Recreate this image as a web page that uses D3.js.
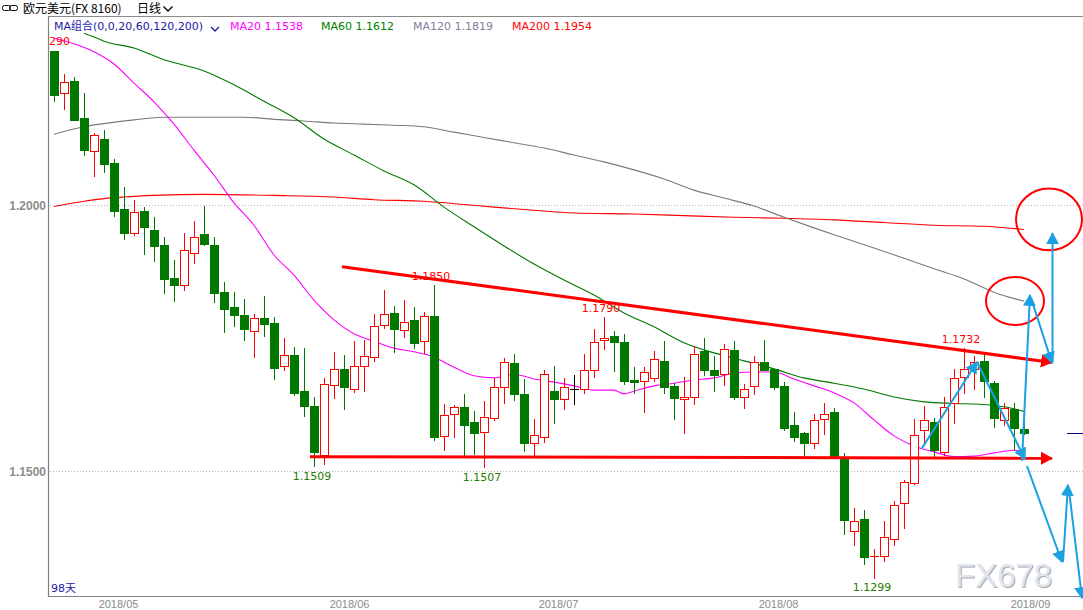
<!DOCTYPE html>
<html><head><meta charset="utf-8">
<script src="https://cdn.jsdelivr.net/npm/d3@7/dist/d3.min.js"></script>
<style>
html,body{margin:0;padding:0;background:#fff;overflow:hidden;}
svg{display:block;}
</style></head><body>
<svg id="chart" width="1083" height="610"></svg>
<script>
// ---------------- DATA ----------------
const open = [1.2289,1.2210,1.2233,1.2164,1.2102,1.2124,1.2079,1.1992,1.1948,1.1989,
1.1953,1.1925,1.1863,1.1850,1.1910,1.1946,1.1925,1.1836,1.1808,1.1793,
1.1763,1.1788,1.1778,1.1697,1.1718,1.1650,1.1622,1.1531,1.1662,1.1692,
1.1655,1.1697,1.1714,1.1774,1.1797,1.1765,1.1783,1.1744,1.1791,1.1566,
1.1607,1.1620,1.1592,1.1573,1.1600,1.1657,1.1703,1.1645,1.1552,1.1564,
1.1650,1.1636,1.1655,1.1654,1.1689,1.1746,1.1754,1.1742,1.1671,1.1670,
1.1674,1.1707,1.1660,1.1635,1.1640,1.1726,1.1690,1.1682,1.1727,1.1640,
1.1659,1.1705,1.1691,1.1660,1.1586,1.1571,1.1552,1.1597,1.1611,1.1524,
1.1387,1.1410,1.1340,1.1341,1.1373,1.1439,1.1478,1.1578,1.1592,1.1536,
1.1627,1.1676,1.1692,1.1707,1.1665,1.1595,1.1617,1.1579];
const high = [1.2290,1.2246,1.2241,1.2211,1.2135,1.2141,1.2086,1.2033,1.2009,1.1996,
1.1978,1.1940,1.1897,1.1947,1.1969,1.1999,1.1940,1.1855,1.1836,1.1823,
1.1795,1.1829,1.1789,1.1750,1.1733,1.1732,1.1640,1.1675,1.1724,1.1718,
1.1744,1.1746,1.1796,1.1840,1.1811,1.1821,1.1808,1.1799,1.1850,1.1626,
1.1624,1.1645,1.1613,1.1632,1.1674,1.1712,1.1720,1.1673,1.1597,1.1690,
1.1697,1.1674,1.1680,1.1720,1.1767,1.1790,1.1764,1.1758,1.1695,1.1695,
1.1726,1.1745,1.1665,1.1677,1.1735,1.1750,1.1716,1.1738,1.1744,1.1663,
1.1717,1.1746,1.1691,1.1667,1.1611,1.1574,1.1607,1.1628,1.1618,1.1534,
1.1430,1.1427,1.1353,1.1406,1.1443,1.1484,1.1598,1.1623,1.1599,1.1640,
1.1692,1.1732,1.1716,1.1719,1.1670,1.1627,1.1627,1.1608];
const low = [1.2195,1.2180,1.2159,1.2094,1.2055,1.2062,1.1980,1.1936,1.1944,1.1908,
1.1895,1.1835,1.1820,1.1840,1.1891,1.1924,1.1818,1.1762,1.1773,1.1746,
1.1715,1.1754,1.1673,1.1689,1.1642,1.1604,1.1509,1.1514,1.1638,1.1616,
1.1649,1.1651,1.1707,1.1769,1.1724,1.1751,1.1732,1.1721,1.1558,1.1540,
1.1563,1.1529,1.1532,1.1507,1.1596,1.1627,1.1633,1.1538,1.1527,1.1555,
1.1590,1.1617,1.1626,1.1647,1.1677,1.1730,1.1688,1.1663,1.1647,1.1610,
1.1670,1.1647,1.1598,1.1572,1.1625,1.1681,1.1651,1.1662,1.1636,1.1619,
1.1645,1.1689,1.1654,1.1578,1.1556,1.1525,1.1544,1.1570,1.1525,1.1382,
1.1361,1.1325,1.1299,1.1331,1.1361,1.1392,1.1476,1.1552,1.1527,1.1530,
1.1591,1.1646,1.1654,1.1640,1.1583,1.1587,1.1539,1.1570];
const close = [1.2207,1.2231,1.2160,1.2103,1.2132,1.2077,1.1989,1.1948,1.1987,1.1959,
1.1922,1.1861,1.1850,1.1915,1.1940,1.1927,1.1835,1.1805,1.1794,1.1767,
1.1788,1.1777,1.1694,1.1718,1.1647,1.1623,1.1536,1.1664,1.1691,1.1657,
1.1697,1.1717,1.1772,1.1796,1.1766,1.1781,1.1741,1.1791,1.1563,1.1605,
1.1620,1.1587,1.1572,1.1601,1.1658,1.1704,1.1645,1.1552,1.1567,1.1682,
1.1636,1.1657,1.1655,1.1689,1.1742,1.1750,1.1742,1.1670,1.1667,1.1687,
1.1710,1.1658,1.1637,1.1640,1.1719,1.1689,1.1681,1.1729,1.1640,1.1655,
1.1704,1.1689,1.1657,1.1581,1.1564,1.1552,1.1596,1.1607,1.1525,1.1408,
1.1406,1.1339,1.1341,1.1375,1.1436,1.1479,1.1567,1.1595,1.1540,1.1620,
1.1674,1.1691,1.1705,1.1670,1.1600,1.1618,1.1581,1.1571];

// moving averages (day index -> value)
const ma20Idx = [0,2,4,6,8,10,12,14,16,18,20,22,24,26,28,30,32,34,36,38,40,42,44,46,48,50,52,54,56,57,58,60,62,64,66,68,70,72,74,76,78,80,82,84,86,88,90,92,94,96,97];
const ma20Val = [1.2314,1.2303,1.2288,1.2265,1.2229,1.2194,1.2152,1.2103,1.2056,1.2004,1.1962,1.1906,1.1868,1.1821,1.1784,1.1758,1.1744,1.1731,1.1724,1.1714,1.1695,1.1679,1.1675,1.1682,1.1673,1.1667,1.1660,1.1652,1.1652,1.1645,1.1650,1.1660,1.1665,1.1671,1.1675,1.1684,1.1686,1.1686,1.1673,1.1660,1.1647,1.1628,1.1596,1.1566,1.1547,1.1536,1.1527,1.1528,1.1534,1.1539,1.1538];
const ma60Idx = [3,4,5,8,11,15,18,21,24,27,30,33,36,39,42,45,48,51,54,57,60,63,66,69,72,75,78,81,84,87,90,93,96,97];
const ma60Val = [1.2323,1.2316,1.2308,1.2295,1.2273,1.2252,1.2226,1.2195,1.2164,1.2124,1.2094,1.2064,1.2038,1.1996,1.1959,1.1923,1.1889,1.1859,1.1831,1.1797,1.1771,1.1741,1.1722,1.1707,1.1692,1.1675,1.1665,1.1654,1.1639,1.1630,1.1627,1.1625,1.1617,1.1612];
const ma120Idx = [0,3,5,8,11,15,19,22,25,28,31,34,37,40,43,46,49,52,55,58,61,64,67,70,73,76,79,82,85,88,91,94,97];
const ma120Val = [1.2133,1.2147,1.2153,1.2160,1.2165,1.2165,1.2165,1.2161,1.2158,1.2154,1.2152,1.2150,1.2147,1.2137,1.2127,1.2117,1.2107,1.2094,1.2081,1.2066,1.2049,1.2028,1.2013,1.1998,1.1977,1.1957,1.1938,1.1919,1.1900,1.1880,1.1861,1.1836,1.1819];
const ma200Idx = [0,3,5,7,10,15,22,28,32,37,41,44,48,52,58,63,68,73,78,83,88,93,97];
const ma200Val = [1.1997,1.2007,1.2012,1.2015,1.2018,1.2020,1.2018,1.2015,1.2010,1.2007,1.2001,1.1996,1.1990,1.1985,1.1983,1.1980,1.1977,1.1975,1.1972,1.1967,1.1962,1.1960,1.1954];

const maNames = ["MA20","MA60","MA120","MA200"];
const maLast = [1.1538,1.1612,1.1819,1.1954];

const yTicks = [1.15, 1.20];
const xTickLabels = ["2018/05","2018/06","2018/07","2018/08","2018/09"];
const xTickIdx = [6.4, 29.5, 50.4, 72.4, 97.6];

// marked extremes (day index)
const peakIdx = [38, 55, 91];
const troughIdx = [26, 43, 82];

// hand-drawn annotations (day index, price)
const resistLine = [[28.8,1.1884],[99.8,1.1704]];
const supportLine = [[25.6,1.1527],[99.8,1.1524]];
const circleNotes = [[99.5,1.1973,3.3,0.0058],[96.1,1.18195,2.9,0.0045]];
const blueArrows = [
 [[86.8,1.1543],[92.3,1.1705]],
 [[92.3,1.1705],[97.1,1.1522]],
 [[96.8,1.1519],[97.6,1.1831]],
 [[97.7,1.1825],[99.8,1.1703]],
 [[99.85,1.1703],[99.85,1.1947]],
 [[97.3,1.1509],[100.8,1.1329]],
 [[100.9,1.1329],[101.4,1.1474]],
 [[101.5,1.1464],[102.8,1.1261]]
];

// ---------------- CHART ----------------
const svg = d3.select("#chart");
const defs = svg.append("defs");
defs.append("clipPath").attr("id","plot").append("rect")
  .attr("x",49).attr("y",17).attr("width",1034).attr("height",579);
defs.append("clipPath").attr("id","topclip").append("rect")
  .attr("x",49).attr("y",17).attr("width",200).attr("height",40);
function marker(id,color){
  defs.append("marker").attr("id",id).attr("viewBox","0 -7 12 14")
   .attr("refX",11).attr("refY",0).attr("markerWidth",12).attr("markerHeight",14)
   .attr("markerUnits","userSpaceOnUse").attr("orient","auto")
   .append("path").attr("d","M0,-6.5L12,0L0,6.5Z").attr("fill",color);
}
marker("arrRed","#ff0000");
marker("arrBlue","#1ba1e2");

const x = d3.scaleLinear().domain([-0.6,102.9]).range([48,1083]);
const y = d3.scaleLinear().domain([1.15,1.20]).range([471,205]);

// header
const hdr = svg.append("g");
hdr.append("rect").attr("x",2.5).attr("y",5.5).attr("width",8).attr("height",5).attr("rx",2)
  .attr("fill","none").attr("stroke","#000");
hdr.append("rect").attr("x",9.5).attr("y",5.5).attr("width",8).attr("height",5).attr("rx",2)
  .attr("fill","none").attr("stroke","#000");
hdr.append("text").attr("x",23).attr("y",13).attr("font-family","'Noto Sans CJK SC',sans-serif")
  .attr("font-size",12).attr("fill","#000").text("欧元美元(FX 8160)");
hdr.append("text").attr("x",137).attr("y",13).attr("font-family","'Noto Sans CJK SC',sans-serif")
  .attr("font-size",12).attr("fill","#000").text("日线");
hdr.append("path").attr("d","M163.5,6.5L168,11L172.5,6.5").attr("fill","none").attr("stroke","#000").attr("stroke-width",1.3);

// frame
svg.append("line").attr("x1",48).attr("x2",1083).attr("y1",16.5).attr("y2",16.5).attr("stroke","#8a8a8a");
svg.append("line").attr("x1",48.5).attr("x2",48.5).attr("y1",16).attr("y2",597).attr("stroke","#808080").attr("stroke-width",1.2);
svg.append("line").attr("x1",48).attr("x2",1083).attr("y1",596.5).attr("y2",596.5).attr("stroke","#808080");

// y axis + grid
const yAxis = d3.axisLeft(y).tickValues(yTicks).tickFormat(d3.format(".4f")).tickSize(0).tickPadding(2);
const gy = svg.append("g").attr("transform","translate(48,0)").call(yAxis);
gy.select(".domain").remove();
gy.selectAll("text").attr("font-family","'Liberation Sans',Arial,sans-serif").attr("font-weight","bold")
  .attr("font-size",12).attr("fill","#8c8c8c").attr("dy","0.35em");
svg.append("g").selectAll("line").data(yTicks).join("line")
  .attr("x1",50).attr("x2",1083).attr("y1",d=>Math.round(y(d))+0.5).attr("y2",d=>Math.round(y(d))+0.5)
  .attr("stroke","#b4b4b4").attr("stroke-dasharray","1,2");

// x axis labels
const xAxis = d3.axisBottom(x).tickValues(xTickIdx).tickFormat((d,i)=>xTickLabels[i]).tickSize(0).tickPadding(0);
const gx = svg.append("g").attr("transform","translate(0,597)").call(xAxis);
gx.select(".domain").remove();
gx.selectAll("text").attr("font-family","'Liberation Sans',Arial,sans-serif").attr("font-size",11)
  .attr("fill","#8c8c8c").attr("dy",null).attr("y",10.5);

const plot = svg.append("g").attr("clip-path","url(#plot)");

// moving averages
const maLine = d3.line().x(d=>x(d[0])).y(d=>y(d[1])).curve(d3.curveMonotoneX);
const maSets = [[ma200Idx,ma200Val,"#ff0000"],[ma120Idx,ma120Val,"#7a7a7a"],[ma60Idx,ma60Val,"#007800"],[ma20Idx,ma20Val,"#ff00ff"]];
maSets.forEach(([idx,val,col])=>{
  plot.append("path").datum(idx.map((d,i)=>[d,val[i]])).attr("d",maLine)
    .attr("fill","none").attr("stroke",col).attr("stroke-width",1.1);
});

// candles
const days = d3.range(open.length);
const cg = plot.append("g");
days.forEach(i=>{
  const cx = Math.round(x(i));
  const o=open[i], c=close[i];
  const col = c>o ? "#ff0000" : (c<o ? "#007800" : "#000000");
  cg.append("line").attr("x1",cx+0.5).attr("x2",cx+0.5)
    .attr("y1",Math.round(y(high[i]))).attr("y2",Math.round(y(low[i]))+1).attr("stroke",col);
  const yt = Math.round(y(Math.max(o,c))), yb = Math.round(y(Math.min(o,c)));
  if (c>o){
    if (yb-yt<2){
      cg.append("line").attr("x1",cx-4).attr("x2",cx+5).attr("y1",yt+0.5).attr("y2",yt+0.5).attr("stroke",col);
    } else {
      cg.append("rect").attr("x",cx-3.5).attr("y",yt+0.5).attr("width",8).attr("height",yb-yt)
        .attr("fill","#fff").attr("stroke",col);
    }
  } else if (c<o){
    cg.append("rect").attr("x",cx-4).attr("y",yt).attr("width",9).attr("height",Math.max(1,yb-yt+1)).attr("fill",col);
  } else {
    cg.append("line").attr("x1",cx-4).attr("x2",cx+5).attr("y1",yt+0.5).attr("y2",yt+0.5).attr("stroke",col);
  }
});

// extreme value labels
const lblFont = "'DejaVu Sans',sans-serif";
plot.append("g").selectAll("text").data(peakIdx).join("text")
  .attr("x",d=>x(d)-3).attr("y",d=>y(high[d])-4.5).attr("text-anchor","middle")
  .attr("font-family",lblFont).attr("font-size",11).attr("fill","#ff0000").text(d=>high[d].toFixed(4));
plot.append("g").selectAll("text").data(troughIdx).join("text")
  .attr("x",d=>x(d)-2).attr("y",d=>y(low[d])+13.5).attr("text-anchor","middle")
  .attr("font-family",lblFont).attr("font-size",11).attr("fill","#1f7a00").text(d=>low[d].toFixed(4));

// annotations
const seg = d3.line().x(d=>x(d[0])).y(d=>y(d[1]));
const ann = svg.append("g");
[resistLine, supportLine].forEach(l=>{
  ann.append("path").datum(l).attr("d",seg).attr("fill","none").attr("stroke","#ff0000")
    .attr("stroke-width",3).attr("marker-end","url(#arrRed)");
});
circleNotes.forEach(([ci,cp,rx,ry])=>{
  ann.append("ellipse").attr("cx",x(ci)).attr("cy",y(cp))
    .attr("rx",x(ci+rx)-x(ci)).attr("ry",y(cp-ry)-y(cp))
    .attr("fill","none").attr("stroke","#ff0000").attr("stroke-width",2);
});
blueArrows.forEach(l=>{
  ann.append("path").datum(l).attr("d",seg).attr("fill","none").attr("stroke","#1ba1e2")
    .attr("stroke-width",2).attr("marker-end","url(#arrBlue)");
});

// last price marker
svg.append("line").attr("x1",1067).attr("x2",1083).attr("y1",Math.round(y(close[close.length-1]))+0.5)
  .attr("y2",Math.round(y(close[close.length-1]))+0.5).attr("stroke","#000080");

// top-left clipped max label
svg.append("g").attr("clip-path","url(#topclip)").append("text")
  .attr("x",70).attr("y",45).attr("text-anchor","end").attr("font-family",lblFont).attr("font-size",11)
  .attr("fill","#ff0000").text(d3.max(high).toFixed(4));

// legend row
const lg = svg.append("g").attr("font-family","'DejaVu Sans','Noto Sans CJK SC',sans-serif").attr("font-size",11);
lg.append("text").attr("x",54).attr("y",29.5).attr("fill","#1a1aa6").text("MA组合(0,0,20,60,120,200)");
lg.append("path").attr("d","M211,27L215,31L219,27").attr("fill","none").attr("stroke","#1a1aa6").attr("stroke-width",1.3);
const legX = [230,321,413,512];
const legC = ["#ff00ff","#008000","#8080a0","#ff0000"];
maNames.forEach((n,i)=>{
  lg.append("text").attr("x",legX[i]).attr("y",29.5).attr("fill",legC[i]).text(n+" "+maLast[i].toFixed(4));
});

// day count
svg.append("text").attr("x",51).attr("y",592).attr("font-family","'DejaVu Sans','Noto Sans CJK SC',sans-serif")
  .attr("font-size",11).attr("fill","#1a1aa6").text(open.length+"天");

// watermark
const wm = svg.append("g").attr("font-family","'Liberation Sans',Arial,sans-serif").attr("font-size",33);
wm.append("text").attr("x",956).attr("y",588).attr("fill","#a8a8a8").text("FX678");
wm.append("text").attr("x",955).attr("y",587).attr("fill","#dfe6ef").text("FX678");
</script>
</body></html>
